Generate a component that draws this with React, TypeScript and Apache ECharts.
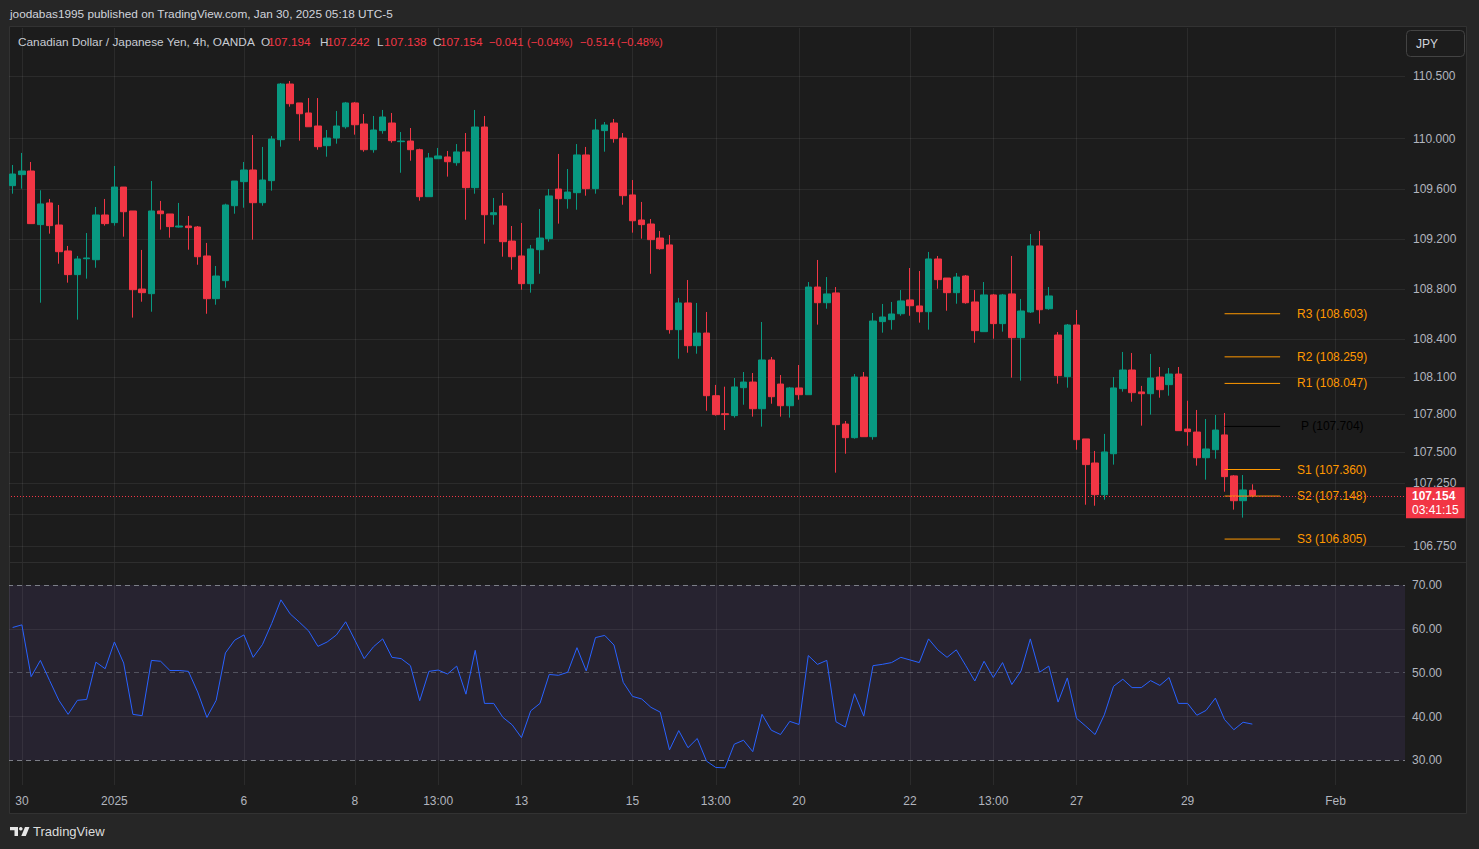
import React, { useEffect, useRef } from "react";
import * as echarts from "echarts";

const FONT = "'Liberation Sans', Arial, sans-serif";
const UP = "#089981";
const DOWN = "#f23645";
const BLUE = "#2962ff";
const ORANGE = "#ff9800";
const GRID = "rgba(255,255,255,0.065)";
const AXIS_TXT = "#b2b5be";

const opens = [
  109.625, 109.713, 109.742, 109.314, 109.487, 109.311, 109.104, 108.915, 109.042, 109.034,
  109.391, 109.33, 109.614, 109.423, 108.8, 108.763, 109.423, 109.399, 109.295, 109.303,
  109.295, 109.064, 108.723, 108.867, 109.465, 109.657, 109.75, 109.489, 109.665, 109.992,
  110.436, 110.285, 110.205, 110.101, 109.944, 110.005, 110.095, 110.285, 110.117, 109.912,
  110.064, 110.125, 109.976, 109.981, 109.912, 109.537, 109.84, 109.854, 109.808, 109.894,
  109.609, 110.093, 109.393, 109.463, 109.183, 109.064, 108.843, 109.114, 109.202, 109.598,
  109.521, 109.569, 109.87, 109.601, 110.064, 110.125, 110.005, 109.551, 109.351, 109.319,
  109.207, 109.152, 108.476, 108.689, 108.348, 108.449, 107.949, 107.805, 107.79, 108.013,
  108.058, 107.845, 108.234, 108.042, 107.869, 108.011, 107.957, 108.816, 108.691, 108.769,
  107.723, 107.614, 108.098, 107.622, 108.54, 108.556, 108.603, 108.713, 108.665, 108.619,
  109.04, 108.888, 108.771, 108.904, 108.697, 108.46, 108.753, 108.524, 108.761, 108.412,
  108.617, 109.144, 108.643, 108.433, 108.101, 108.513, 107.604, 107.412, 107.159, 107.486,
  108.005, 108.154, 107.979, 107.965, 108.098, 108.037, 108.122, 107.683, 107.659, 107.454,
  107.518, 107.636, 107.309, 107.111, 107.194,
];
const highs = [
  109.79, 109.886, 109.814, 109.588, 109.519, 109.471, 109.144, 109.064, 109.247, 109.455,
  109.519, 109.782, 109.614, 109.423, 109.112, 109.662, 109.503, 109.399, 109.487, 109.383,
  109.303, 109.168, 108.984, 109.481, 109.662, 109.814, 110.029, 109.934, 110.021, 110.444,
  110.46, 110.285, 110.324, 110.324, 110.069, 110.221, 110.293, 110.293, 110.197, 110.181,
  110.229, 110.205, 110.053, 110.085, 109.92, 109.886, 109.926, 109.902, 109.957, 110.045,
  110.229, 110.181, 109.527, 109.567, 109.303, 109.327, 109.152, 109.439, 109.598, 109.878,
  109.758, 109.957, 109.934, 110.157, 110.133, 110.157, 110.045, 109.67, 109.495, 109.359,
  109.263, 109.231, 108.729, 108.872, 108.689, 108.617, 108.035, 108.021, 108.09, 108.138,
  108.13, 108.537, 108.258, 108.114, 108.019, 108.194, 108.856, 109.032, 108.896, 108.816,
  107.747, 108.122, 108.138, 108.609, 108.681, 108.697, 108.792, 108.968, 108.944, 109.096,
  109.064, 108.888, 108.928, 108.912, 108.792, 108.856, 108.761, 108.761, 109.064, 108.721,
  109.239, 109.263, 108.816, 108.457, 108.521, 108.633, 107.604, 107.508, 107.644, 108.098,
  108.298, 108.29, 108.027, 108.282, 108.178, 108.17, 108.178, 107.909, 107.835, 107.763,
  107.795, 107.811, 107.316, 107.316, 107.242,
];
const lows = [
  109.561, 109.601, 109.322, 108.691, 109.242, 109.002, 108.851, 108.556, 108.883, 108.97,
  109.306, 109.306, 109.218, 108.572, 108.699, 108.619, 109.274, 109.21, 109.29, 109.114,
  108.994, 108.603, 108.675, 108.811, 109.401, 109.449, 109.194, 109.465, 109.585, 109.936,
  110.255, 109.984, 110.095, 109.912, 109.856, 109.96, 110.08, 110.032, 109.896, 109.888,
  110.04, 109.968, 109.728, 109.824, 109.505, 109.537, 109.84, 109.697, 109.784, 109.353,
  109.561, 109.162, 109.314, 109.058, 108.954, 108.795, 108.771, 108.922, 109.178, 109.322,
  109.441, 109.433, 109.545, 109.561, 109.896, 109.968, 109.473, 109.25, 109.202, 108.922,
  109.114, 108.444, 108.244, 108.292, 108.284, 107.829, 107.79, 107.675, 107.774, 107.877,
  107.782, 107.702, 107.885, 107.782, 107.774, 107.917, 107.957, 108.516, 108.643, 107.335,
  107.486, 107.606, 107.622, 107.598, 108.452, 108.476, 108.587, 108.587, 108.532, 108.476,
  108.803, 108.627, 108.683, 108.683, 108.372, 108.46, 108.404, 108.46, 108.093, 108.069,
  108.609, 108.524, 108.635, 108.045, 108.013, 107.518, 107.079, 107.071, 107.119, 107.399,
  107.981, 107.901, 107.71, 107.798, 107.933, 107.949, 107.67, 107.55, 107.391, 107.279,
  107.446, 107.183, 107.04, 106.976, 107.138,
];
const closes = [
  109.718, 109.742, 109.322, 109.479, 109.306, 109.098, 108.915, 109.04, 109.048, 109.391,
  109.322, 109.614, 109.417, 108.795, 108.771, 109.423, 109.401, 109.298, 109.303, 109.29,
  109.058, 108.723, 108.904, 109.471, 109.662, 109.75, 109.489, 109.67, 109.997, 110.436,
  110.279, 110.199, 110.095, 109.936, 110.005, 110.101, 110.285, 110.111, 109.912, 110.069,
  110.173, 109.984, 109.981, 109.912, 109.537, 109.846, 109.862, 109.816, 109.894, 109.609,
  110.093, 109.393, 109.409, 109.178, 109.058, 108.843, 109.12, 109.207, 109.543, 109.521,
  109.574, 109.87, 109.601, 110.069, 110.109, 110.0, 109.545, 109.345, 109.314, 109.194,
  109.122, 108.476, 108.689, 108.348, 108.449, 107.949, 107.798, 107.798, 108.019, 108.058,
  107.845, 108.234, 107.941, 107.869, 108.011, 107.957, 108.816, 108.691, 108.761, 107.718,
  107.614, 108.098, 107.622, 108.545, 108.577, 108.601, 108.705, 108.667, 108.619, 109.04,
  108.875, 108.771, 108.896, 108.691, 108.468, 108.753, 108.524, 108.753, 108.412, 108.625,
  109.144, 108.635, 108.745, 108.109, 108.513, 107.598, 107.399, 107.159, 107.5, 108.011,
  108.154, 107.973, 107.965, 108.09, 107.997, 108.122, 107.67, 107.662, 107.454, 107.524,
  107.675, 107.303, 107.111, 107.197, 107.154,
];
const rsiValues = [
  60.3, 60.9, 49.1, 52.8, 48.2, 43.7, 40.5, 43.7, 43.9, 52.4,
  50.9, 57.0, 52.2, 40.5, 40.2, 52.8, 52.6, 50.5, 50.5, 50.3,
  45.6, 39.8, 43.7, 54.5, 57.4, 58.6, 53.5, 56.4, 61.2, 66.6,
  63.4, 61.5, 59.5, 56.0, 57.0, 58.6, 61.6, 57.4, 53.2, 55.9,
  57.7, 53.5, 53.2, 51.6, 43.6, 50.3, 50.6, 49.7, 51.5, 45.1,
  55.1, 43.0, 43.0, 39.8, 38.1, 35.2, 41.3, 43.0, 49.6, 49.4,
  50.1, 55.7, 50.4, 58.0, 58.5, 56.3, 47.8, 44.6, 44.0, 42.1,
  41.0, 32.4, 36.8, 32.9, 35.0, 29.85, 28.4, 28.3, 33.7, 34.6,
  32.0, 40.5, 36.9, 35.9, 38.9, 38.2, 53.9, 51.9, 52.8, 38.8,
  37.6, 45.2, 40.1, 51.6, 51.9, 52.3, 53.5, 52.9, 52.3, 57.7,
  55.2, 53.5, 55.2, 51.7, 48.1, 52.6, 48.9, 52.3, 47.3, 50.4,
  57.7, 50.1, 51.5, 43.3, 48.8, 39.6, 37.8, 35.9, 40.4, 46.9,
  48.5, 46.6, 46.6, 48.2, 47.1, 48.9, 43.0, 43.0, 40.3, 41.4,
  44.2, 39.3, 37.0, 38.7, 38.28,
];

const SLOTS = 151;
const priceTicks = [110.5, 110.0, 109.6, 109.2, 108.8, 108.4, 108.1, 107.8, 107.5, 107.25, 107.0, 106.75];
const hiddenPriceTick = 107.0;
const rsiDashed = [70, 50, 30];
const rsiSolid = [60, 40];
const xTickIndex = [1, 11, 25, 37, 46, 55, 67, 76, 85, 97, 106, 115, 127, 143];
const xTickLabels = ["30", "2025", "6", "8", "13:00", "13", "15", "13:00", "20", "22", "13:00", "27", "29", "Feb"];
const pivotNames = ["R3", "R2", "R1", "P", "S1", "S2", "S3"];
const pivotValues = [108.603, 108.259, 108.047, 107.704, 107.36, 107.148, 106.805];
const pivotStart = 131;
const pivotEnd = 137;
const lastPrice = 107.154;
const countdown = "03:41:15";
const lastRsi = 38.28;

const titleText = "joodabas1995 published on TradingView.com, Jan 30, 2025 05:18 UTC-5";
const symbolText = "Canadian Dollar / Japanese Yen, 4h, OANDA";
const legendParts: [string, string, number][] = [
  ["O", "107.194", 261],
  ["H", "107.242", 320],
  ["L", "107.138", 377],
  ["C", "107.154", 433],
];
const changeParts: [string, number][] = [
  ["\u22120.041", 489],
  ["(\u22120.04%)", 527],
  ["\u22120.514", 580],
  ["(\u22120.48%)", 617],
];

function buildOption() {
  const cats = Array.from({ length: SLOTS }, (_, i) => String(i));
  const tickSet = new Set(xTickIndex);
  const candleData = opens.map((o, i) => [o, closes[i], lows[i], highs[i]]);

  const gridLineData: any[] = [
    ...priceTicks.map((v) => ({
      yAxis: v,
      label: { formatter: v === hiddenPriceTick ? "" : v.toFixed(3) },
    })),
    ...xTickIndex.map((i) => ({ xAxis: i, label: { show: false } })),
  ];

  const rsiLineData: any[] = [
    ...rsiDashed.map((v) => ({
      yAxis: v,
      lineStyle: { color: v === 50 ? "rgba(120,123,134,0.55)" : "rgba(140,143,152,0.85)", type: [5, 4], width: 1 },
      label: { formatter: v.toFixed(2) },
    })),
    ...rsiSolid.map((v) => ({ yAxis: v, label: { formatter: v.toFixed(2) } })),
    ...xTickIndex.map((i) => ({ xAxis: i, label: { show: false } })),
  ];

  const pivotSeries: any[] = pivotNames.map((n, k) => {
    const color = n === "P" ? "#000000" : ORANGE;
    return {
      type: "line",
      name: `pivot ${n}`,
      xAxisIndex: 0,
      yAxisIndex: 0,
      z: 4,
      silent: true,
      symbol: "none",
      showSymbol: false,
      color,
      data: [
        [pivotStart, pivotValues[k]],
        [pivotEnd, pivotValues[k]],
      ],
      lineStyle: { color, width: 1, type: "solid", opacity: 1 },
      endLabel: {
        show: true,
        formatter: `${n} (${pivotValues[k].toFixed(3)})`,
        color,
        fontSize: 12,
        fontFamily: FONT,
        distance: n === "P" ? 21 : 17,
      },
    };
  });

  const legendFont = `11.8px ${FONT}`;

  const graphic: any[] = [
    {
      type: "rect",
      z: -10,
      silent: true,
      shape: { x: 9.5, y: 26.5, width: 1457, height: 787 },
      style: { fill: "#1c1c1c", stroke: "#323232", lineWidth: 1 },
    },
    {
      type: "line",
      z: -9,
      silent: true,
      shape: { x1: 10, y1: 562.5, x2: 1466, y2: 562.5 },
      style: { stroke: "#2e2e2e", lineWidth: 1 },
    },
    {
      type: "rect",
      z: 100,
      silent: true,
      shape: { x: 0, y: 27, width: 9, height: 787 },
      style: { fill: "#262626" },
    },
    {
      type: "text",
      z: 100,
      x: 10,
      y: 14,
      style: { text: titleText, fill: "#d1d4dc", font: `11.8px ${FONT}`, verticalAlign: "middle" },
    },
    {
      type: "text",
      z: 100,
      x: 18,
      y: 42,
      style: { text: symbolText, fill: "#c9ccd4", font: legendFont, verticalAlign: "middle" },
    },
    ...legendParts.flatMap(([k, v, x]) => [
      { type: "text", z: 100, x, y: 42, style: { text: k, fill: "#c9ccd4", font: legendFont, verticalAlign: "middle" } },
      { type: "text", z: 100, x: x + 7, y: 42, style: { text: v, fill: DOWN, font: legendFont, verticalAlign: "middle" } },
    ]),
    ...changeParts.map(([t, x]) => ({
      type: "text",
      z: 100,
      x,
      y: 42,
      style: { text: t, fill: DOWN, font: `11.2px ${FONT}`, verticalAlign: "middle" },
    })),
    {
      type: "rect",
      z: 100,
      shape: { x: 1406.5, y: 30.5, width: 58, height: 26, r: 4 },
      style: { fill: "#1c1c1c", stroke: "#434343", lineWidth: 1 },
    },
    {
      type: "text",
      z: 101,
      x: 1416,
      y: 44,
      style: { text: "JPY", fill: "#d1d4dc", font: `12px ${FONT}`, verticalAlign: "middle" },
    },
    {
      type: "polygon",
      z: 100,
      shape: { points: [[10, 827], [18, 827], [18, 836], [14.5, 836], [14.5, 830.3], [10, 830.3]] },
      style: { fill: "#e6e6e6" },
    },
    { type: "circle", z: 100, shape: { cx: 20.8, cy: 828.8, r: 1.8 }, style: { fill: "#e6e6e6" } },
    {
      type: "polygon",
      z: 100,
      shape: { points: [[25, 827], [29.5, 827], [25.8, 836], [21.3, 836]] },
      style: { fill: "#e6e6e6" },
    },
    {
      type: "text",
      z: 100,
      x: 33,
      y: 831.5,
      style: { text: "TradingView", fill: "#dcdcdc", font: `13px ${FONT}`, verticalAlign: "middle" },
    },
  ];

  return {
    animation: false,
    backgroundColor: "#262626",
    textStyle: { fontFamily: FONT },
    graphic,
    grid: [
      { left: 8, width: 1397, top: 28, height: 534 },
      { left: 8, width: 1397, top: 563, height: 222 },
    ],
    xAxis: [
      {
        type: "category",
        gridIndex: 0,
        data: cats,
        boundaryGap: true,
        show: false,
      },
      {
        type: "category",
        gridIndex: 1,
        data: cats,
        boundaryGap: true,
        axisLine: { show: false },
        axisTick: { show: false },
        splitLine: { show: false },
        axisLabel: {
          show: true,
          interval: (i: number) => tickSet.has(i),
          formatter: (_v: string, i: number) => {
            const k = xTickIndex.indexOf(i);
            return k >= 0 ? xTickLabels[k] : "";
          },
          color: AXIS_TXT,
          fontSize: 12,
          fontFamily: FONT,
          margin: 10,
        },
      },
    ],
    yAxis: [
      { type: "value", gridIndex: 0, min: 106.622, max: 110.883, show: false },
      { type: "value", gridIndex: 1, min: 24.4, max: 75, show: false },
    ],
    series: [
      {
        type: "line",
        name: "priceGrid",
        xAxisIndex: 0,
        yAxisIndex: 0,
        data: [],
        silent: true,
        markLine: {
          z: 1,
          silent: true,
          animation: false,
          symbol: ["none", "none"],
          lineStyle: { color: GRID, width: 1, type: "solid" },
          label: { show: true, position: "end", distance: 8, color: AXIS_TXT, fontSize: 12, fontFamily: FONT },
          emphasis: { disabled: true },
          data: gridLineData,
        },
      },
      {
        type: "candlestick",
        name: "CADJPY",
        xAxisIndex: 0,
        yAxisIndex: 0,
        z: 3,
        barWidth: 7,
        data: candleData,
        itemStyle: { color: UP, color0: DOWN, borderColor: UP, borderColor0: DOWN, borderWidth: 1 },
      },
      ...pivotSeries,
      {
        type: "line",
        name: "lastPrice",
        xAxisIndex: 0,
        yAxisIndex: 0,
        data: [],
        silent: true,
        z: 5,
        markLine: {
          z: 7,
          silent: true,
          animation: false,
          symbol: ["none", "none"],
          emphasis: { disabled: true },
          data: [
            {
              yAxis: lastPrice,
              lineStyle: { color: DOWN, width: 1, type: [1, 2] },
              label: {
                show: true,
                position: "end",
                distance: 1,
                offset: [0, 7],
                backgroundColor: DOWN,
                padding: [2, 6, 1, 6],
                formatter: `{a|${lastPrice.toFixed(3)}}\n{b|${countdown}}`,
                rich: {
                  a: { color: "#ffffff", fontWeight: "bold", fontSize: 12, lineHeight: 14, fontFamily: FONT },
                  b: { color: "#ffffff", fontSize: 12, lineHeight: 14, fontFamily: FONT },
                },
              },
            },
          ],
        },
      },
      {
        type: "line",
        name: "rsiGrid",
        xAxisIndex: 1,
        yAxisIndex: 1,
        data: [],
        silent: true,
        markArea: {
          z: 1,
          silent: true,
          itemStyle: { color: "rgba(126,87,194,0.12)" },
          emphasis: { disabled: true },
          data: [[{ yAxis: 70 }, { yAxis: 30 }]],
        },
        markLine: {
          z: 2,
          silent: true,
          animation: false,
          symbol: ["none", "none"],
          lineStyle: { color: GRID, width: 1, type: "solid" },
          label: { show: true, position: "end", distance: 7, color: AXIS_TXT, fontSize: 12, fontFamily: FONT },
          emphasis: { disabled: true },
          data: rsiLineData,
        },
      },
      {
        type: "line",
        name: "RSI",
        xAxisIndex: 1,
        yAxisIndex: 1,
        z: 3,
        data: rsiValues,
        symbol: "none",
        showSymbol: false,
        lineStyle: { color: BLUE, width: 1 },
        markLine: {
          z: 8,
          silent: true,
          animation: false,
          symbol: ["none", "none"],
          emphasis: { disabled: true },
          data: [
            {
              yAxis: lastRsi,
              lineStyle: { opacity: 0 },
              label: {
                show: true,
                position: "end",
                distance: 1,
                backgroundColor: BLUE,
                color: "#ffffff",
                fontWeight: "bold",
                fontSize: 12,
                fontFamily: FONT,
                padding: [2, 6, 1, 6],
                formatter: lastRsi.toFixed(2),
              },
            },
          ],
        },
      },
    ],
  };
}

export default function App() {
  const ref = useRef<HTMLDivElement>(null);
  useEffect(() => {
    if (!ref.current) return;
    const chart = echarts.init(ref.current, null, { renderer: "svg" });
    chart.setOption(buildOption() as any);
    return () => chart.dispose();
  }, []);
  return (
    <div
      ref={ref}
      style={{ position: "absolute", left: 0, top: 0, width: 1479, height: 849 }}
    />
  );
}
